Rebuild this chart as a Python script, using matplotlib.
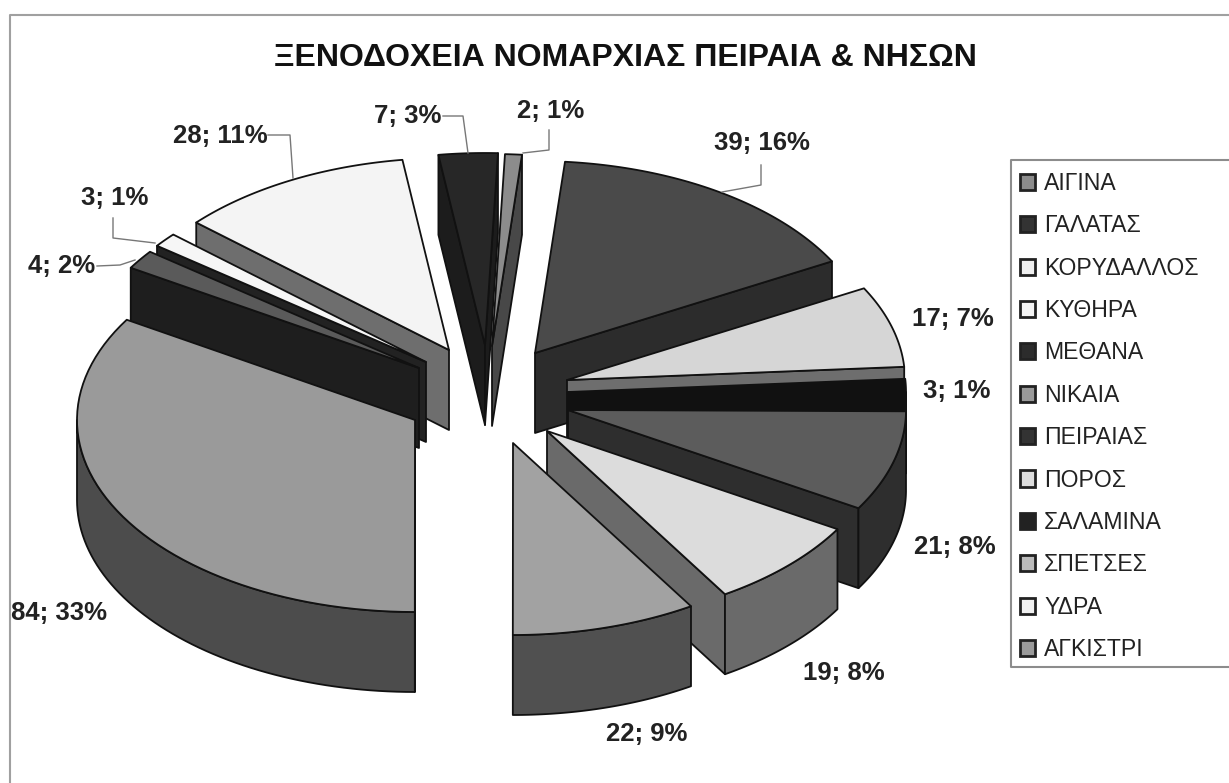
import numpy as np
import matplotlib
matplotlib.use('Agg')
import matplotlib.pyplot as plt
from matplotlib.patches import Polygon, Patch

plt.rcParams['font.family'] = ['Liberation Sans', 'DejaVu Sans']

# data, clockwise from the top
towns = ['ΑΙΓΙΝΑ', 'ΓΑΛΑΤΑΣ', 'ΚΟΡΥΔΑΛΛΟΣ', 'ΚΥΘΗΡΑ', 'ΜΕΘΑΝΑ', 'ΝΙΚΑΙΑ',
         'ΠΕΙΡΑΙΑΣ', 'ΠΟΡΟΣ', 'ΣΑΛΑΜΙΝΑ', 'ΣΠΕΤΣΕΣ', 'ΥΔΡΑ', 'ΑΓΚΙΣΤΡΙ']
hotels = [2, 39, 17, 3, 21, 19, 22, 84, 4, 3, 28, 7]
percents = [1, 16, 7, 1, 8, 8, 9, 33, 2, 1, 11, 3]

# colours per slice
top_colors = ['#8c8c8c', '#4a4a4a', '#d6d6d6', '#111111', '#5c5c5c', '#dcdcdc',
              '#a2a2a2', '#9a9a9a', '#5a5a5a', '#f6f6f6', '#f4f4f4', '#272727']
side_colors = ['#484848', '#2c2c2c', '#6e6e6e', '#111111', '#2e2e2e', '#6a6a6a',
               '#505050', '#4c4c4c', '#1e1e1e', '#222222', '#6e6e6e', '#1c1c1c']
legend_colors = ['#8c8c8c', '#333333', '#efefef', '#f5f5f5', '#2c2c2c', '#9a9a9a',
                 '#333333', '#dddddd', '#222222', '#bbbbbb', '#f0f0f0', '#9a9a9a']

# layout in pixels
rx, ry, depth = 338, 192, 80
start_angle = 2.2
# where each exploded slice has its tip
tips = [(492, 346), (535, 353), (567, 380), (568, 392), (568, 410), (547, 431),
        (513, 443), (415, 420), (419, 368), (426, 362), (449, 350), (485, 345)]
draw_order = [11, 0, 1, 10, 2, 9, 8, 3, 4, 7, 5, 6]
label_pos = [(551, 111), (762, 143), (953, 319), (957, 391), (955, 547), (844, 673),
             (647, 734), (59, 613), (62, 266), (115, 198), (220, 136), (408, 116)]
leaders = {0: [(549, 130), (549, 150), (523, 153)],
           1: [(761, 165), (761, 185), (722, 192)],
           8: [(97, 266), (120, 265), (135, 260)],
           9: [(113, 218), (113, 238), (155, 243)],
           10: [(268, 135), (290, 135), (293, 178)],
           11: [(443, 116), (463, 116), (468, 153)]}


def rim(tip, a, b, n=60):
    t = np.radians(np.linspace(a, b, n))
    return np.column_stack([tip[0] + rx * np.sin(t), tip[1] - ry * np.cos(t)])


def face(ax, pts, color):
    ax.add_patch(Polygon(pts, closed=True, facecolor=color, edgecolor='#111111',
                         linewidth=1.3, joinstyle='round'))


fig = plt.figure(figsize=(12.29, 7.83), dpi=100)
ax = fig.add_axes([0, 0, 1, 1])
ax.set_xlim(0, 1229)
ax.set_ylim(783, 0)
ax.axis('off')

# chart border, only left and top are in the scan
ax.plot([1229, 10, 10], [15, 15, 783], color='#a0a0a0', linewidth=1.5)

spans = np.array(hotels) / sum(hotels) * 360
starts = start_angle + np.concatenate([[0], np.cumsum(spans)[:-1]])

for i in draw_order:
    a = starts[i]
    b = a + spans[i]
    tip = tips[i]
    down = np.array([0, depth])
    tip_pt = np.array([tip])

    # radial faces that look towards the viewer
    if np.sin(np.radians(a + 0.001)) < 0:
        edge = np.vstack([rim(tip, a, a, 1), tip_pt])
        face(ax, np.vstack([edge, edge[::-1] + down]), side_colors[i])
    if np.sin(np.radians(b - 0.001)) > 0:
        edge = np.vstack([rim(tip, b, b, 1), tip_pt])
        face(ax, np.vstack([edge, edge[::-1] + down]), side_colors[i])

    # outer wall
    lo, hi = max(a, 90), min(b, 270)
    if lo < hi:
        arc = rim(tip, lo, hi)
        face(ax, np.vstack([arc, arc[::-1] + down]), side_colors[i])

    # top
    face(ax, np.vstack([tip_pt, rim(tip, a, b)]), top_colors[i])

for i in range(len(hotels)):
    ax.text(label_pos[i][0], label_pos[i][1], f'{hotels[i]}; {percents[i]}%',
            fontsize=18.5, fontweight='bold', color='#222222', ha='center', va='center')
    if leaders.get(i):
        xs, ys = zip(*leaders[i])
        ax.plot(xs, ys, color='#777777', linewidth=1)

ax.text(625, 58, 'ΞΕΝΟΔΟΧΕΙΑ ΝΟΜΑΡΧΙΑΣ ΠΕΙΡΑΙΑ & ΝΗΣΩΝ', fontsize=23,
        fontweight='bold', color='#111111', ha='center', va='center')

# legend box runs off the right side
ax.plot([1229, 1011, 1011, 1229], [160, 160, 667, 667], color='#8c8c8c', linewidth=1.5)
handles = [Patch(facecolor=c, edgecolor='#222222', linewidth=2) for c in legend_colors]
ax.legend(handles, towns, loc='upper left', bbox_to_anchor=(1020 / 1229, 1 - 172 / 783),
          frameon=False, fontsize=16.6, labelspacing=0.84, handlelength=0.65,
          handleheight=0.7, handletextpad=0.4, borderpad=0, borderaxespad=0,
          labelcolor='#222222')

fig.savefig('out.png', dpi=100)
